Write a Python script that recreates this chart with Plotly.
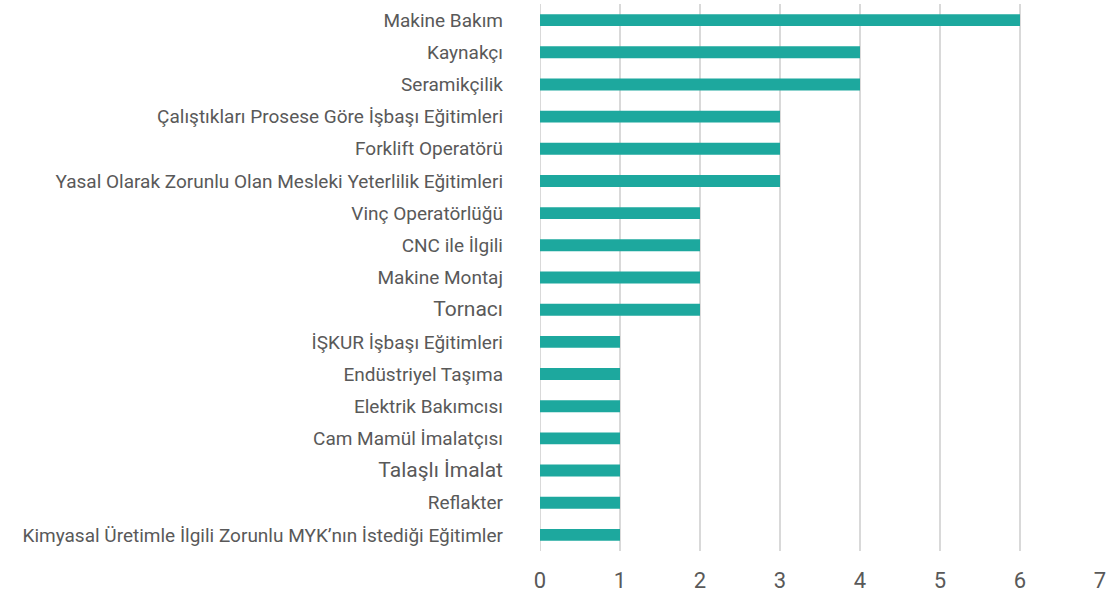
import plotly.graph_objects as go

categories = [
    "Makine Bakım",
    "Kaynakçı",
    "Seramikçilik",
    "Çalıştıkları Prosese Göre İşbaşı Eğitimleri",
    "Forklift Operatörü",
    "Yasal Olarak Zorunlu Olan Mesleki Yeterlilik Eğitimleri",
    "Vinç Operatörlüğü",
    "CNC ile İlgili",
    "Makine Montaj",
    "Tornacı",
    "İŞKUR İşbaşı Eğitimleri",
    "Endüstriyel Taşıma",
    "Elektrik Bakımcısı",
    "Cam Mamül İmalatçısı",
    "Talaşlı İmalat",
    "Reflakter",
    "Kimyasal Üretimle İlgili Zorunlu MYK’nın İstediği Eğitimler",
]
values = [6, 4, 4, 3, 3, 3, 2, 2, 2, 2, 1, 1, 1, 1, 1, 1, 1]
larger_labels = ["Tornacı", "Talaşlı İmalat"]
x_ticks = [0, 1, 2, 3, 4, 5, 6, 7]

ticktext = [
    f"<span style='font-size:21px'>{c}</span>" if c in larger_labels else c
    for c in categories
]

fig = go.Figure(go.Bar(
    x=values,
    y=categories,
    orientation="h",
    marker=dict(color="#1DA89E", line=dict(width=0)),
    width=0.37,
))

fig.update_layout(
    width=1110,
    height=603,
    margin=dict(l=540, r=10, t=4, b=52, autoexpand=False),
    paper_bgcolor="white",
    plot_bgcolor="white",
    font=dict(family="Liberation Sans Narrow, Roboto, sans-serif", color="#595959", size=19),
    showlegend=False,
)
fig.update_xaxes(
    range=[0, 7],
    tickvals=x_ticks,
    showgrid=True,
    gridcolor="#D9D9D9",
    gridwidth=2,
    zeroline=False,
    showline=False,
    automargin=False,
    tickfont=dict(size=22, color="#595959"),
    ticklabelstandoff=14,
)
fig.update_yaxes(
    categoryorder="array",
    categoryarray=categories,
    tickvals=categories,
    ticktext=ticktext,
    autorange="reversed",
    showgrid=False,
    showline=False,
    zeroline=False,
    automargin=False,
    ticklabelstandoff=36,
    tickfont=dict(size=19, color="#595959"),
)
fig.add_shape(type="line", xref="x", yref="paper", x0=0, x1=0, y0=0, y1=1,
              line=dict(color="#D9D9D9", width=2), layer="below")

fig.write_html("out.html", config={"displayModeBar": False},
               post_script="document.body.style.margin='0';")
